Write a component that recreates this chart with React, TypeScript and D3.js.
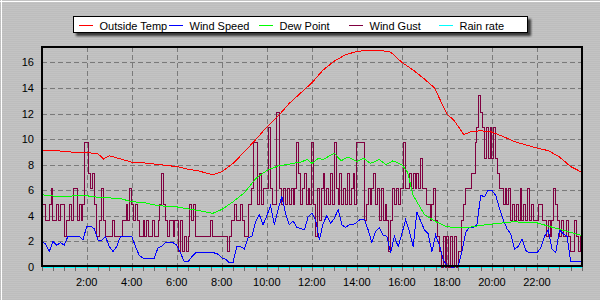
import React from 'react';
import * as d3 from 'd3';

const W = 600;
const H = 300;

const yTicks = [0, 2, 4, 6, 8, 10, 12, 14, 16];
const xTickHours = [2, 4, 6, 8, 10, 12, 14, 16, 18, 20, 22];
const xTickLabels = ['2:00', '4:00', '6:00', '8:00', '10:00', '12:00', '14:00', '16:00', '18:00', '20:00', '22:00'];
const minorTickHours = d3.range(0, 24.01, 0.5);

const legendNames = ['Outside Temp', 'Wind Speed', 'Dew Point', 'Wind Gust', 'Rain rate'];
const legendColors = ['#ff0000', '#0000ff', '#00ff00', '#800040', '#00ffff'];

const tempHours = [0, 0.5, 1, 1.5, 2, 2.5, 2.75, 3, 3.5, 4, 4.5, 5, 5.5, 6, 6.5, 7, 7.6, 8, 8.5, 9, 9.5, 10, 10.5, 11, 11.5, 12, 12.5, 13, 13.5, 14, 14.5, 15, 15.5, 16, 16.5, 17, 17.45, 18, 18.3, 18.75, 19.1, 19.5, 20, 20.5, 21, 21.5, 22, 22.5, 23, 23.5, 24];
const tempValues = [9.15, 9.1, 9.05, 8.95, 8.95, 8.85, 8.45, 8.7, 8.45, 8.2, 8.15, 8.05, 7.95, 7.85, 7.65, 7.5, 7.2, 7.45, 8.1, 9.0, 9.95, 10.95, 11.8, 12.8, 13.6, 14.4, 15.4, 16.1, 16.6, 16.85, 16.95, 16.95, 16.8, 16.0, 15.4, 14.7, 14.0, 11.95, 11.5, 10.35, 10.6, 10.65, 10.55, 10.2, 9.8, 9.55, 9.3, 9.1, 8.6, 7.85, 7.4];

const dewHours = [0, 0.5, 1, 1.5, 2, 2.5, 3, 3.5, 4, 4.5, 5, 5.5, 6, 6.5, 7, 7.6, 8, 8.5, 9, 9.5, 10, 10.5, 11, 11.5, 11.8, 12, 12.3, 12.5, 13, 13.3, 13.6, 14, 14.3, 14.6, 15, 15.3, 15.6, 16, 16.25, 16.5, 17, 17.5, 18, 18.5, 19, 19.5, 20, 20.5, 21, 21.5, 22, 22.5, 23, 23.5, 24];
const dewValues = [5.65, 5.55, 5.5, 5.57, 5.57, 5.45, 5.4, 5.35, 5.1, 5.05, 4.85, 4.75, 4.7, 4.55, 4.4, 4.2, 4.5, 5.1, 5.8, 6.9, 7.55, 7.9, 8.05, 8.2, 8.4, 8.1, 8.5, 8.4, 8.9, 8.3, 8.6, 8.25, 8.5, 8.1, 8.4, 8.0, 8.3, 8.0, 7.4, 5.6, 4.1, 3.55, 3.15, 3.05, 3.1, 3.25, 3.35, 3.45, 3.55, 3.45, 3.45, 3.2, 2.95, 2.7, 2.45];

// wind speed, one value every 10 minutes (0:00 .. 24:00)
const windValues = [
  2.0, 1.8, 1.2, 2.0, 1.7, 1.9,
  1.7, 2.4, 2.4, 2.4, 2.4, 2.1,
  3.2, 3.2, 3.0, 2.1, 2.1, 2.4,
  1.6, 1.2, 1.6, 2.4, 2.4, 2.4,
  2.4, 1.6, 0.9, 0.7, 0.7, 0.7,
  0.7, 1.5, 1.6, 1.9, 1.9, 1.9,
  1.7, 1.1, 0.4, 0.4, 0.8, 1.1,
  1.1, 1.1, 1.1, 1.1, 1.1, 1.0,
  0.7, 0.6, 0.35, 0.35, 1.6, 1.6,
  1.4, 2.3, 2.4, 3.5, 4.1, 3.3,
  4.0, 4.8, 3.3, 4.5, 5.5, 4.2,
  3.3, 3.6, 3.1, 3.0, 2.9, 3.9,
  4.2, 3.7, 2.1, 3.4, 4.0, 3.4,
  3.8, 4.5, 3.3, 3.1, 3.3, 3.3,
  3.5, 3.75, 3.75, 2.9, 1.9, 2.8,
  3.1, 2.5, 2.4, 1.1, 2.4, 1.6,
  2.6, 3.7, 2.8, 1.6, 4.3, 3.6,
  2.9, 2.6, 1.2, 2.5, 1.7, 0.6,
  0.1, 0.0, 0.0, 0.1, 1.2, 2.7,
  3.1, 3.1, 3.3, 5.6, 5.5, 6.0,
  6.0, 5.6, 4.6, 3.7, 3.0, 2.6,
  1.4, 1.6, 2.2, 1.3, 1.1, 1.1,
  1.1, 1.5, 2.4, 2.9, 1.4, 1.1,
  2.9, 2.6, 2.4, 0.4, 0.4, 0.4,
  0.4,
];

// wind gust, one value every 5 minutes (0:00 .. 23:55)
const gustValues = [
  4.9, 4.9, 3.6, 3.6, 4.9, 6.1, 3.6, 3.6, 4.9, 3.6, 4.9, 4.9,
  2.4, 3.6, 3.6, 4.9, 3.6, 6.1, 6.1, 3.6, 4.9, 3.6, 4.9, 9.7,
  9.7, 7.3, 6.1, 7.3, 4.9, 2.4, 2.4, 3.6, 6.1, 3.6, 2.4, 2.4,
  2.4, 2.4, 3.6, 2.4, 2.4, 2.4, 2.4, 3.6, 3.6, 4.9, 3.6, 6.1,
  4.9, 3.6, 4.9, 3.6, 2.4, 2.4, 3.6, 2.4, 3.6, 2.4, 2.4, 3.6,
  2.4, 2.4, 3.6, 4.9, 7.3, 4.9, 3.6, 2.4, 3.6, 3.6, 2.4, 3.6,
  3.6, 1.2, 3.6, 1.2, 2.4, 1.2, 2.4, 4.9, 3.6, 4.9, 2.4, 2.4,
  2.4, 2.4, 2.4, 2.4, 2.4, 2.4, 3.6, 2.4, 2.4, 2.4, 2.4, 2.4,
  2.4, 2.4, 2.4, 1.2, 2.4, 3.6, 3.6, 4.9, 3.6, 3.6, 4.9, 3.6,
  2.4, 2.4, 4.9, 4.9, 6.1, 9.7, 9.7, 4.9, 7.3, 4.9, 6.1, 6.1,
  6.1, 10.9, 6.1, 4.9, 4.9, 12.1, 12.1, 6.1, 4.9, 6.1, 4.9, 6.1,
  4.9, 6.1, 4.9, 6.1, 9.7, 7.3, 4.9, 6.1, 7.3, 4.9, 6.1, 4.9,
  9.7, 4.9, 2.4, 6.1, 3.6, 6.1, 7.3, 4.9, 6.1, 4.9, 7.3, 4.9,
  9.7, 6.1, 4.9, 7.3, 4.9, 6.1, 4.9, 7.3, 4.9, 6.1, 7.3, 4.9,
  9.7, 9.7, 9.7, 9.7, 3.6, 4.9, 6.1, 4.9, 6.1, 7.3, 4.9, 6.1,
  3.6, 6.1, 3.6, 4.9, 3.6, 1.2, 3.6, 6.1, 4.9, 6.1, 4.9, 6.1,
  6.1, 9.7, 6.1, 6.1, 7.3, 6.1, 7.3, 6.1, 7.3, 6.1, 8.5, 6.1,
  6.1, 4.9, 4.9, 3.6, 4.9, 6.1, 3.6, 2.4, 1.2, 0, 2.4, 0,
  2.4, 0, 2.4, 0, 2.4, 0, 1.2, 1.2, 3.6, 4.9, 6.1, 6.1,
  6.1, 7.3, 7.3, 9.7, 10.9, 13.4, 12.1, 10.9, 8.5, 10.9, 8.5, 10.9,
  8.5, 10.9, 8.5, 7.3, 6.1, 6.1, 4.9, 6.1, 4.9, 6.1, 3.6, 4.9,
  3.6, 4.9, 3.6, 6.1, 3.6, 4.9, 3.6, 6.1, 3.6, 4.9, 3.6, 3.6,
  3.6, 4.9, 4.9, 3.6, 3.6, 2.4, 3.6, 2.4, 3.6, 6.1, 4.9, 3.6,
  2.4, 3.6, 2.4, 2.4, 3.6, 2.4, 1.2, 1.2, 3.6, 2.4, 1.2, 2.4,
];

const rainHours = [0, 24];
const rainValues = [0, 0];

const FONT = '"Liberation Sans", Arial, sans-serif';

export default function App() {
  const left = 42;
  const right = 582;
  const top = 46.5;
  const bottom = 266;

  const x = d3.scaleLinear().domain([0, 24]).range([41.7, 582]);
  const y = d3.scaleLinear().domain([0, 17.24]).range([267, 46.5]);

  const line = d3
    .line<[number, number]>()
    .x((d) => x(d[0]))
    .y((d) => y(d[1]));
  const stepLine = d3
    .line<[number, number]>()
    .x((d) => x(d[0]))
    .y((d) => y(d[1]))
    .curve(d3.curveStepAfter);

  const tempPts = tempHours.map((h, i) => [h, tempValues[i]] as [number, number]);
  const dewPts = dewHours.map((h, i) => [h, dewValues[i]] as [number, number]);
  const windPts = windValues.map((v, i) => [i / 6, v] as [number, number]);
  const gustPts = gustValues.map((v, i) => [i / 12, v] as [number, number]);
  gustPts.push([24, gustValues[gustValues.length - 1]]);
  const rainPts = rainHours.map((h, i) => [h, rainValues[i]] as [number, number]);

  const legendX0 = 79;
  const legendStep = 90;

  return (
    <svg
      width={W}
      height={H}
      style={{ position: 'absolute', left: 0, top: 0, display: 'block' }}
      fontFamily={FONT}
    >
      <defs>
        <pattern id="bgpat" width="4" height="2" patternUnits="userSpaceOnUse">
          <rect width="4" height="1" fill="#c3c3c3" />
          <rect y="1" width="4" height="1" fill="#bdbdbd" />
        </pattern>
        <filter id="shadow" x="-10%" y="-50%" width="120%" height="200%">
          <feGaussianBlur stdDeviation="1.2" />
        </filter>
      </defs>
      <rect width={W} height={H} fill="url(#bgpat)" />
      <line x1={0} y1={1.5} x2={W} y2={1.5} stroke="#ffffff" strokeWidth={1} shapeRendering="crispEdges" />
      <line x1={1.5} y1={0} x2={1.5} y2={H} stroke="#ffffff" strokeWidth={1} shapeRendering="crispEdges" />

      {/* grid */}
      <g stroke="#7a7a7a" strokeWidth={1} strokeDasharray="5,3" shapeRendering="crispEdges">
        {yTicks.filter((t) => t > 0).map((t) => (
          <line key={'gy' + t} x1={left} x2={right} y1={Math.round(y(t)) + 0.5} y2={Math.round(y(t)) + 0.5} />
        ))}
        {xTickHours.map((h) => (
          <line key={'gx' + h} x1={Math.round(x(h)) + 0.5} x2={Math.round(x(h)) + 0.5} y1={top} y2={bottom} />
        ))}
      </g>

      {/* series */}
      <g fill="none" strokeWidth={1} shapeRendering="crispEdges">
        <path d={line(rainPts) || ''} stroke={legendColors[4]} />
        <path d={stepLine(gustPts) || ''} stroke={legendColors[3]} />
        <path d={line(windPts) || ''} stroke={legendColors[1]} />
        <path d={line(dewPts) || ''} stroke={legendColors[2]} />
        <path d={line(tempPts) || ''} stroke={legendColors[0]} />
      </g>

      {/* frame */}
      <rect
        x={left}
        y={top}
        width={right - left}
        height={bottom - top}
        fill="none"
        stroke="#000"
        strokeWidth={2}
        shapeRendering="crispEdges"
      />

      {/* x ticks */}
      <g stroke="#6a6a6a" strokeWidth={1} shapeRendering="crispEdges">
        {minorTickHours.map((h) => (
          <line key={'mt' + h} x1={Math.round(x(h)) + 0.5} x2={Math.round(x(h)) + 0.5} y1={267} y2={271} />
        ))}
      </g>

      {/* y labels */}
      <g fontSize={11} fill="#000" textAnchor="end">
        {yTicks.map((t) => (
          <text key={'yl' + t} x={34} y={y(t) + 4}>
            {t}
          </text>
        ))}
      </g>

      {/* x labels */}
      <g fontSize={11} fill="#000" textAnchor="middle">
        {xTickHours.map((h, i) => (
          <text key={'xl' + h} x={x(h)} y={286}>
            {xTickLabels[i]}
          </text>
        ))}
      </g>

      {/* legend */}
      <rect x={76} y={19} width={455} height={17} fill="#202020" opacity={0.85} filter="url(#shadow)" />
      <rect x={73.5} y={16.5} width={454} height={16} fill="#ffffff" stroke="#000" strokeWidth={1} shapeRendering="crispEdges" />
      {legendNames.map((name, i) => {
        const lx = legendX0 + i * legendStep;
        return (
          <g key={name}>
            <line x1={lx} x2={lx + 14} y1={25.5} y2={25.5} stroke={legendColors[i]} strokeWidth={1} shapeRendering="crispEdges" />
            <text x={lx + 20.5} y={29.5} fontSize={11} fill="#000">
              {name}
            </text>
          </g>
        );
      })}
    </svg>
  );
}
